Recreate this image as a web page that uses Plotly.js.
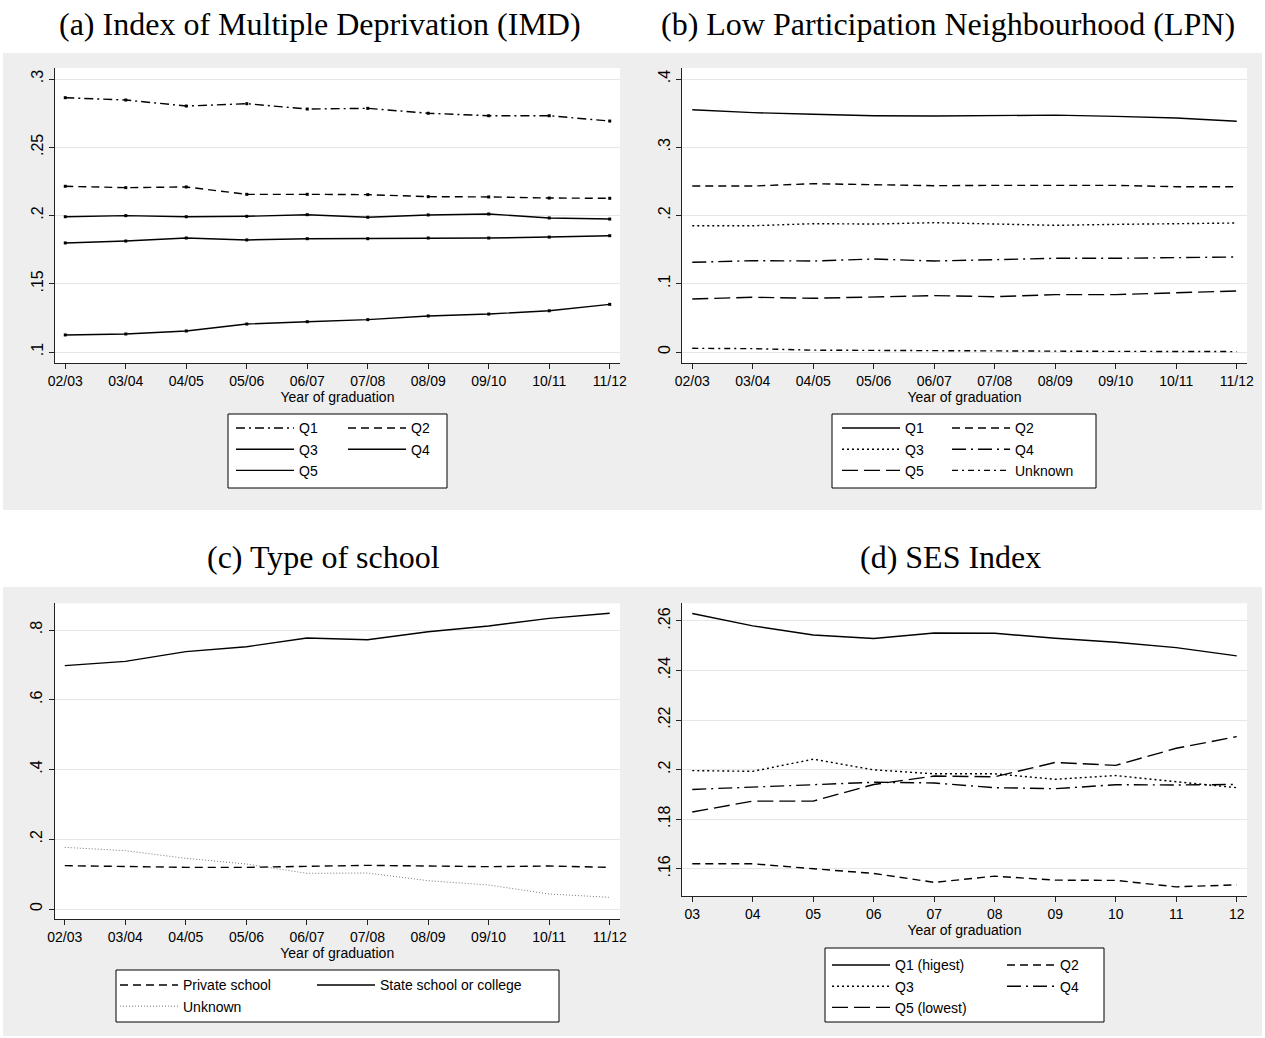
<!DOCTYPE html>
<html>
<head>
<meta charset="utf-8">
<script src="https://cdn.plot.ly/plotly-3.0.1.min.js"></script>
<style>html,body{margin:0;padding:0;background:#fff;}#chart{width:1265px;height:1038px;}</style>
</head>
<body>
<div id="chart"></div>
<script>
// ---------- data ----------
const years = ['02/03','03/04','04/05','05/06','06/07','07/08','08/09','09/10','10/11','11/12'];
const yearsSES = ['03','04','05','06','07','08','09','10','11','12'];

// (a) IMD
const imdQ1 = [0.2863,0.2846,0.2802,0.2819,0.2780,0.2785,0.2749,0.2731,0.2731,0.2692];
const imdQ2 = [0.2214,0.2204,0.2209,0.2155,0.2155,0.2153,0.2138,0.2136,0.2128,0.2126];
const imdQ3 = [0.1991,0.1999,0.1991,0.1994,0.2006,0.1987,0.2004,0.2011,0.1982,0.1974];
const imdQ4 = [0.1799,0.1813,0.1835,0.1821,0.1830,0.1830,0.1835,0.1835,0.1842,0.1852];
const imdQ5 = [0.1125,0.1132,0.1154,0.1205,0.1222,0.1237,0.1264,0.1278,0.1302,0.1349];

// (b) LPN
const lpnQ1 = [0.3550,0.3507,0.3483,0.3462,0.3458,0.3462,0.3470,0.3453,0.3429,0.3380];
const lpnQ2 = [0.2432,0.2432,0.2466,0.2447,0.2437,0.2442,0.2437,0.2442,0.2422,0.2422];
const lpnQ3 = [0.1850,0.1850,0.1880,0.1875,0.1895,0.1875,0.1856,0.1870,0.1875,0.1890];
const lpnQ4 = [0.1314,0.1338,0.1333,0.1363,0.1333,0.1348,0.1373,0.1373,0.1382,0.1392];
const lpnQ5 = [0.0777,0.0802,0.0787,0.0810,0.0826,0.0810,0.0841,0.0841,0.0870,0.0894];
const lpnUnknown = [0.0054,0.0049,0.0027,0.0022,0.0017,0.0013,0.0011,0.0009,0.0008,0.0006];

// (c) Type of school
const schPrivate = [0.1243,0.1214,0.1195,0.1195,0.1214,0.1252,0.1233,0.1214,0.1233,0.1195];
const schState   = [0.698,0.710,0.738,0.752,0.777,0.772,0.795,0.8115,0.8335,0.848];
const schUnknown = [0.1768,0.1673,0.1453,0.129,0.1023,0.1032,0.0812,0.0688,0.043,0.0335];

// (d) SES index
const sesQ1 = [0.2630,0.2580,0.2543,0.2529,0.2551,0.2550,0.2530,0.2514,0.2492,0.2459];
const sesQ2 = [0.1620,0.1620,0.1600,0.1581,0.1545,0.1570,0.1554,0.1553,0.1527,0.1535];
const sesQ3 = [0.1996,0.1993,0.2042,0.1999,0.1983,0.1983,0.1961,0.1976,0.1951,0.1927];
const sesQ4 = [0.1920,0.1928,0.1939,0.1949,0.1946,0.1927,0.1923,0.1939,0.1938,0.1940];
const sesQ5 = [0.1829,0.1873,0.1873,0.1940,0.1974,0.1971,0.2029,0.2017,0.2086,0.2133];

// tick labels
const imdTickVals = [0.1,0.15,0.2,0.25,0.3];
const imdTickText = ['.1','.15','.2','.25','.3'];
const lpnTickVals = [0,0.1,0.2,0.3,0.4];
const lpnTickText = ['0','.1','.2','.3','.4'];
const schTickVals = [0,0.2,0.4,0.6,0.8];
const schTickText = ['0','.2','.4','.6','.8'];
const sesTickVals = [0.16,0.18,0.2,0.22,0.24,0.26];
const sesTickText = ['.16','.18','.2','.22','.24','.26'];

const panelTitles = ['(a) Index of Multiple Deprivation (IMD)','(b) Low Participation Neighbourhood (LPN)','(c) Type of school','(d) SES Index'];
const xTitle = 'Year of graduation';

// ---------- layout helpers ----------
const W = 1265, H = 1038;
const fx = p => p / W;
const fy = p => 1 - p / H;
const SANS = 'Liberation Sans, Arial, sans-serif';
const SERIF = 'Liberation Serif, Times New Roman, serif';

const DASH_DOT = '9px,4px,2px,4px';
const DASHED = '8px,5px';
const DOT = '2px,3px';
const LONG_DASH_DOT = '14px,5px,2px,5px';
const LONG_DASH = '16px,6px';
const SHORT_DASH_DOT = '6px,4px,2px,4px';
const LW = 1.4;

function line(x, y, name, dash, xa, ya, legend, color, width) {
  return {x: x, y: y, name: name, type: 'scatter', mode: 'lines',
    line: {color: color || '#000', width: width || LW, dash: dash},
    xaxis: xa, yaxis: ya, legend: legend, hoverinfo: 'skip'};
}
function dots(x, y, xa, ya) {
  return {x: x, y: y, type: 'scatter', mode: 'markers', showlegend: false,
    marker: {symbol: 'square', size: 3, color: '#000'}, xaxis: xa, yaxis: ya, hoverinfo: 'skip'};
}

const traces = [
  // (a)
  line(years, imdQ1, 'Q1', DASH_DOT, 'x', 'y', 'legend'),
  line(years, imdQ3, 'Q3', 'solid', 'x', 'y', 'legend'),
  line(years, imdQ5, 'Q5', 'solid', 'x', 'y', 'legend'),
  line(years, imdQ2, 'Q2', DASHED, 'x', 'y', 'legend2'),
  line(years, imdQ4, 'Q4', 'solid', 'x', 'y', 'legend2'),
  dots(years, imdQ1, 'x', 'y'), dots(years, imdQ2, 'x', 'y'), dots(years, imdQ3, 'x', 'y'),
  dots(years, imdQ4, 'x', 'y'), dots(years, imdQ5, 'x', 'y'),
  // (b)
  line(years, lpnQ1, 'Q1', 'solid', 'x2', 'y2', 'legend3'),
  line(years, lpnQ3, 'Q3', DOT, 'x2', 'y2', 'legend3'),
  line(years, lpnQ5, 'Q5', LONG_DASH, 'x2', 'y2', 'legend3'),
  line(years, lpnQ2, 'Q2', DASHED, 'x2', 'y2', 'legend4'),
  line(years, lpnQ4, 'Q4', LONG_DASH_DOT, 'x2', 'y2', 'legend4'),
  line(years, lpnUnknown, 'Unknown', SHORT_DASH_DOT, 'x2', 'y2', 'legend4'),
  // (c)
  line(years, schPrivate, 'Private school', DASHED, 'x3', 'y3', 'legend5'),
  line(years, schUnknown, 'Unknown', '1px,2px', 'x3', 'y3', 'legend5', '#777', 1),
  line(years, schState, 'State school or college', 'solid', 'x3', 'y3', 'legend6'),
  // (d)
  line(yearsSES, sesQ1, 'Q1 (higest)', 'solid', 'x4', 'y4', 'legend7'),
  line(yearsSES, sesQ3, 'Q3', DOT, 'x4', 'y4', 'legend7'),
  line(yearsSES, sesQ5, 'Q5 (lowest)', LONG_DASH, 'x4', 'y4', 'legend7'),
  line(yearsSES, sesQ2, 'Q2', DASHED, 'x4', 'y4', 'legend8'),
  line(yearsSES, sesQ4, 'Q4', LONG_DASH_DOT, 'x4', 'y4', 'legend8')
];

function xAxis(l, r, anchor) {
  return {type: 'category', domain: [fx(l), fx(r)], range: [-0.17, 9.17], anchor: anchor,
    showgrid: false, zeroline: false, showline: true, linecolor: '#222', linewidth: 1,
    ticks: 'outside', ticklen: 5, tickcolor: '#222', tickwidth: 1,
    tickfont: {family: SANS, size: 14, color: '#000'}, fixedrange: true,
    title: {text: xTitle, font: {family: SANS, size: 14, color: '#000'}, standoff: 2}};
}
function yAxis(t, b, range, vals, text, anchor) {
  return {domain: [fy(b), fy(t)], range: range, anchor: anchor,
    tickmode: 'array', tickvals: vals, ticktext: text, tickangle: -90,
    showgrid: true, gridcolor: '#e6e6e6', gridwidth: 1, zeroline: false,
    showline: true, linecolor: '#222', linewidth: 1,
    ticks: 'outside', ticklen: 5, tickcolor: '#222', tickwidth: 1,
    tickfont: {family: SANS, size: 16, color: '#000'}, fixedrange: true};
}

function legendAt(xpx, ypx, iw) {
  return {x: fx(xpx), y: fy(ypx), xanchor: 'left', yanchor: 'top', orientation: 'v',
    bgcolor: 'rgba(0,0,0,0)', borderwidth: 0, itemwidth: iw || 58, traceorder: 'normal',
    font: {family: SANS, size: 14, color: '#000'}, itemclick: false, itemdoubleclick: false};
}

function rect(x0, y0, x1, y1, fill, lineColor) {
  return {type: 'rect', xref: 'paper', yref: 'paper', layer: 'below',
    x0: fx(x0), x1: fx(x1), y0: fy(y1), y1: fy(y0), fillcolor: fill,
    line: {width: lineColor ? 1 : 0, color: lineColor || fill}};
}

function title(text, cx, cy) {
  return {text: text, xref: 'paper', yref: 'paper', x: fx(cx), y: fy(cy),
    xanchor: 'center', yanchor: 'middle', showarrow: false,
    font: {family: SERIF, size: 32, color: '#000'}};
}

const GRAY = '#eeeeee';
const layout = {
  width: W, height: H, margin: {l: 0, r: 0, t: 0, b: 0},
  paper_bgcolor: '#ffffff', plot_bgcolor: '#ffffff', showlegend: true,
  xaxis:  xAxis(55, 620, 'y'),
  yaxis:  yAxis(68, 363, [0.09194, 0.30806], imdTickVals, imdTickText, 'x'),
  xaxis2: xAxis(682, 1247, 'y2'),
  yaxis2: yAxis(68, 363, [-0.01612, 0.41612], lpnTickVals, lpnTickText, 'x2'),
  xaxis3: xAxis(54.5, 620, 'y3'),
  yaxis3: yAxis(603.3, 919.3, [-0.0295, 0.8766], schTickVals, schTickText, 'x3'),
  xaxis4: xAxis(682, 1247, 'y4'),
  yaxis4: yAxis(603.3, 896, [0.149, 0.2671], sesTickVals, sesTickText, 'x4'),
  legend:  legendAt(231, 412.4),
  legend2: legendAt(343, 412.4),
  legend3: legendAt(837, 412.4),
  legend4: legendAt(947, 412.4),
  legend5: legendAt(115, 969.4),
  legend6: legendAt(312, 969.4),
  legend7: legendAt(827, 949.4),
  legend8: legendAt(1002, 949.4, 48),
  shapes: [
    rect(3, 53, 1262, 510, GRAY),
    rect(3, 587, 1262, 1036, GRAY),
    rect(55, 68, 620, 363, '#ffffff'),
    rect(682, 68, 1247, 363, '#ffffff'),
    rect(54.5, 603.3, 620, 919.3, '#ffffff'),
    rect(682, 603.3, 1247, 896, '#ffffff'),
    rect(228, 414, 447, 488, '#ffffff', '#000'),
    rect(832, 414, 1096, 488, '#ffffff', '#000'),
    rect(116, 970, 559, 1022, '#ffffff', '#000'),
    rect(825, 948, 1104, 1022, '#ffffff', '#000')
  ],
  annotations: [
    title(panelTitles[0], 320, 24),
    title(panelTitles[1], 948, 24),
    title(panelTitles[2], 323, 557),
    title(panelTitles[3], 950, 557)
  ]
};

Plotly.newPlot('chart', traces, layout, {displayModeBar: false, staticPlot: true});
</script>
</body>
</html>
